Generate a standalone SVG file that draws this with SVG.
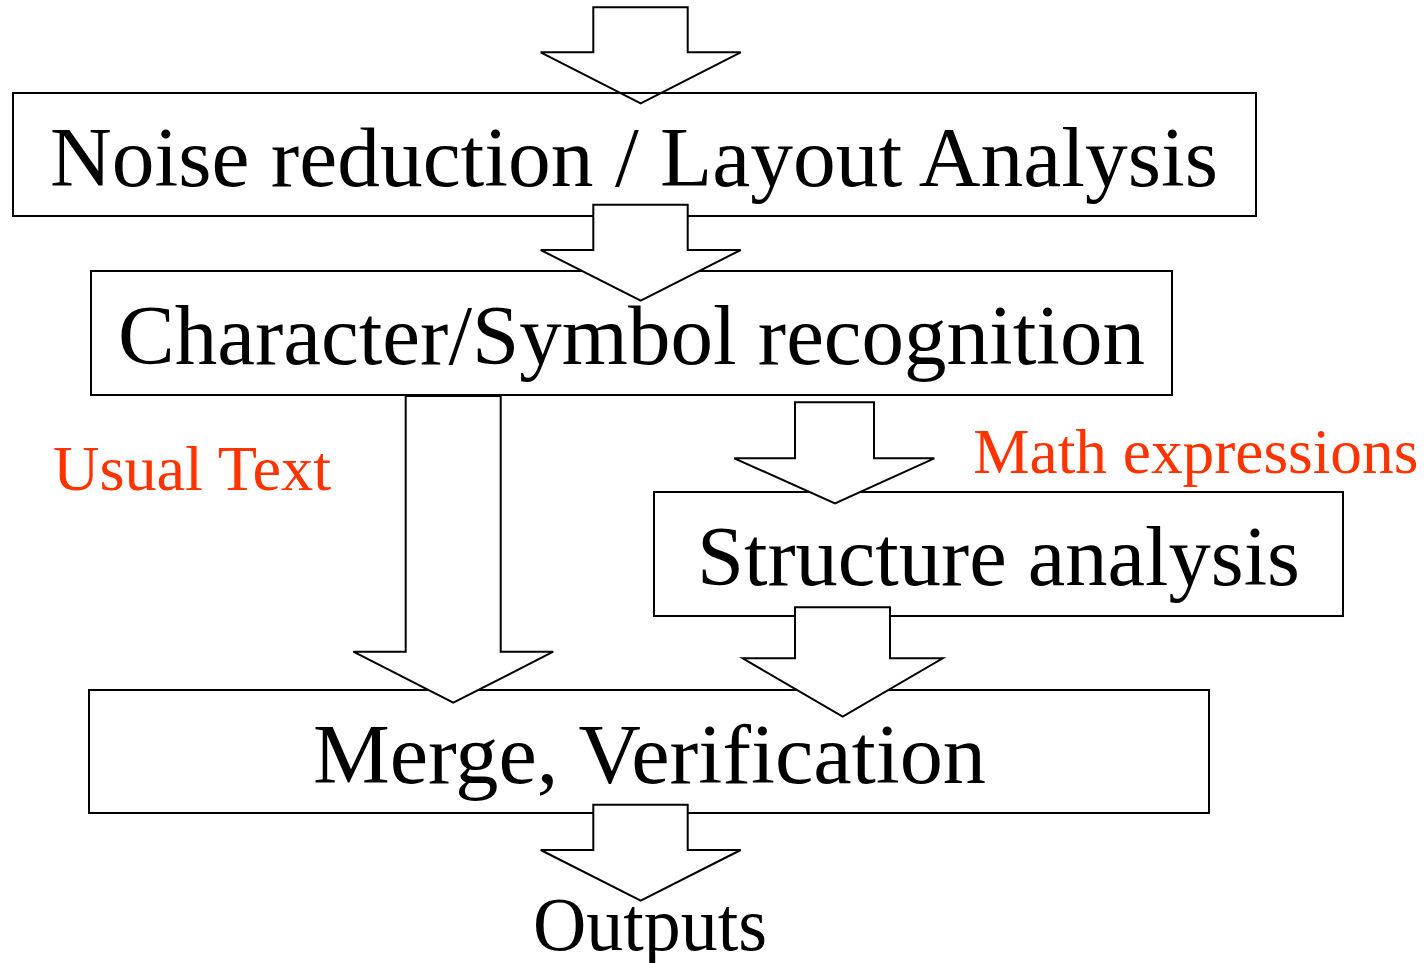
<svg xmlns="http://www.w3.org/2000/svg" width="1427" height="963" viewBox="0 0 1427 963">
  <style>
    .box { fill: none; stroke: #000; stroke-width: 2; }
    .arrow { fill: #fff; stroke: #000; stroke-width: 2; stroke-linejoin: miter; }
    .lbl { font-family: "Liberation Serif", "Times New Roman", serif; font-size: 84px; fill: #000; text-anchor: middle; }
    .tag { font-family: "Liberation Serif", "Times New Roman", serif; font-size: 63px; fill: #ff3300; }
  </style>
  <rect width="1427" height="963" fill="#fff"/>

  <!-- input arrow (sits under the first box outline) -->
  <g id="connectors-in">
    <polygon class="arrow" points="593.3,7.3 687.7,7.3 687.7,52.3 740.7,52.3 640.7,103.3 540.7,52.3 593.3,52.3"/>
  </g>

  <g id="noise">
    <rect class="box" x="13" y="93" width="1243" height="123"/>
    <text class="lbl" x="634" y="186" textLength="1168" lengthAdjust="spacingAndGlyphs">Noise reduction / Layout Analysis</text>
  </g>

  <g id="character">
    <rect class="box" x="91" y="271" width="1081" height="124"/>
    <text class="lbl" x="631.5" y="364" textLength="1027" lengthAdjust="spacingAndGlyphs">Character/Symbol recognition</text>
  </g>

  <g id="structure">
    <rect class="box" x="654" y="492" width="689" height="124"/>
    <text class="lbl" x="998.5" y="585" textLength="603" lengthAdjust="spacingAndGlyphs">Structure analysis</text>
  </g>

  <g id="merge">
    <rect class="box" x="89" y="690" width="1120" height="123"/>
    <text class="lbl" x="649.5" y="783" textLength="673" lengthAdjust="spacingAndGlyphs">Merge, Verification</text>
  </g>

  <g id="outputs">
    <text class="lbl" x="650" y="950" style="font-size:76px" textLength="234" lengthAdjust="spacingAndGlyphs">Outputs</text>
  </g>

  <g id="usual-text">
    <text class="tag" x="53" y="490" textLength="278" lengthAdjust="spacingAndGlyphs">Usual Text</text>
  </g>

  <g id="math-expressions">
    <text class="tag" x="973.3" y="473.3" textLength="445" lengthAdjust="spacingAndGlyphs">Math expressions</text>
  </g>

  <!-- block arrows between stages, drawn over the box outlines -->
  <g id="connectors">
    <polygon class="arrow" points="593.3,204.7 687.7,204.7 687.7,250 740.7,250 640.7,300.7 540.7,250 593.3,250"/>
    <polygon class="arrow" points="405.7,396 500.7,396 500.7,651.7 553.3,651.7 453.3,702.7 353.3,651.7 405.7,651.7"/>
    <polygon class="arrow" points="795,402.3 874,402.3 874,458.3 934.3,458.3 835,503.3 734.3,458.3 795,458.3"/>
    <polygon class="arrow" points="795,607.3 890,607.3 890,658.3 942.7,658.3 842.7,716.7 742.7,658.3 795,658.3"/>
    <polygon class="arrow" points="593.3,804.7 687.7,804.7 687.7,850 740.7,850 640.7,900.7 540.7,850 593.3,850"/>
  </g>
</svg>
